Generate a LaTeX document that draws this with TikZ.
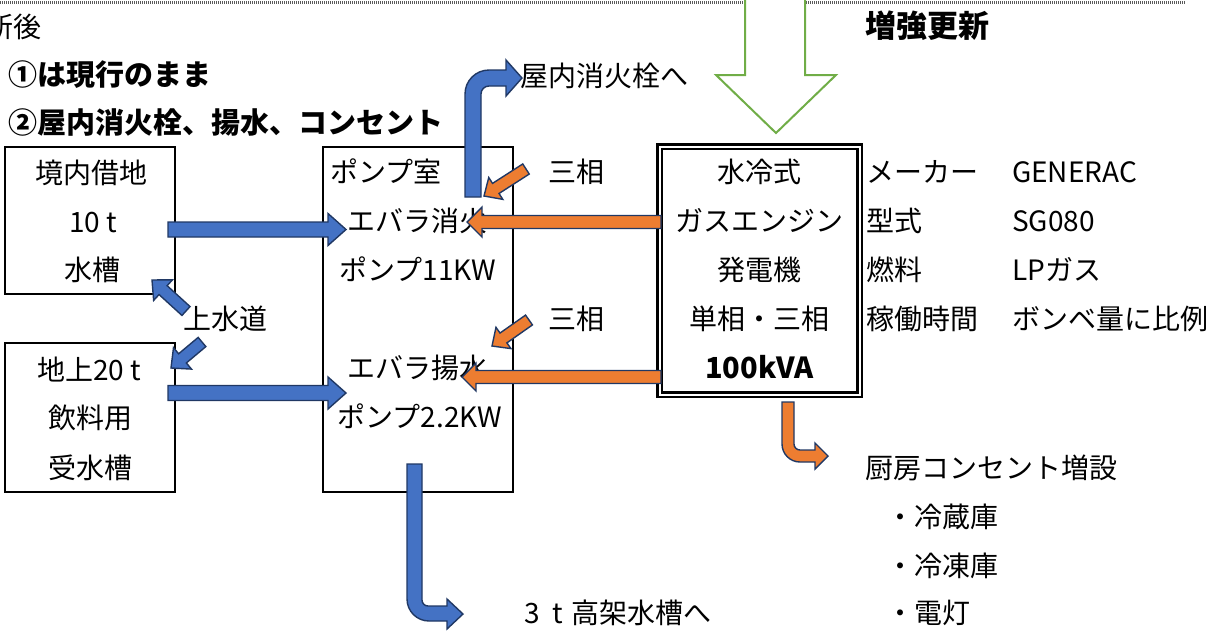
\documentclass[tikz,border=0pt]{standalone}
\usepackage{fontspec}
\setmainfont{Noto Sans CJK JP}
\usetikzlibrary{calc}
\definecolor{abl}{RGB}{68,114,196}
\definecolor{aor}{RGB}{237,125,49}
\definecolor{anv}{RGB}{32,56,100}
\definecolor{agr}{RGB}{112,173,71}
\definecolor{adot}{RGB}{90,90,90}
\newcommand\blockarr[6]{%
  \coordinate (bab) at ($(#3)!#6!(#2)$);
  \filldraw[#1] ($(#2)!#4!90:(#3)$) -- ($(bab)!#4!90:(#3)$) -- ($(bab)!#5!90:(#3)$) -- (#3)
    -- ($(bab)!#5!-90:(#3)$) -- ($(bab)!#4!-90:(#3)$) -- ($(#2)!#4!-90:(#3)$) -- cycle;}
\begin{document}
\begin{tikzpicture}[x=1pt,y=-1pt,
  tx/.style={font=\fontsize{28}{34}\selectfont, inner sep=0pt, text height=24pt, text depth=4pt},
  bx/.style={font=\fontsize{29}{35}\selectfont\bfseries, inner sep=0pt, text height=25pt, text depth=4pt},
  box/.style={draw, line width=2.5pt, inner sep=0pt},
  bluearr/.style={fill=abl, draw=anv, line width=1.4pt},
  orarr/.style={fill=aor, draw=anv, line width=1.4pt}]
\useasboundingbox (0,0) rectangle (1223,633);
% top dotted line
\draw[adot, line width=3pt, dash pattern=on 1pt off 1pt] (0,2) -- (1186,2);
% green arrow
\filldraw[fill=white, draw=agr, line width=2pt] (745,-5) -- (745,75) -- (716,75) -- (776,133) -- (836,75) -- (805,75) -- (805,-5);
% headings
\node[tx, anchor=east] (t0) at (42,27) {更新後};
\node[bx, anchor=west] (t1) at (8,75) {①は現行のまま};
\node[bx, anchor=west] (t2) at (8,123) {②屋内消火栓、揚水、コンセント};
\node[bx, anchor=west, font=\fontsize{31}{37}\selectfont\bfseries] (t3) at (865,27) {増強更新};
% boxes
\node[box, minimum width=170pt, minimum height=147pt] (boxA) at (90,220.5) {};
\node[box, minimum width=170pt, minimum height=149pt] (boxB) at (90,417.5) {};
\node[box, minimum width=190pt, minimum height=345pt] (pump) at (418,319.5) {};
\node[draw, double, double distance=2pt, line width=2.5pt, inner sep=0pt, minimum width=200pt, minimum height=248pt] (gen) at (759.5,270.5) {};
% box A text
\node[tx] (a1) at (91,173) {境内借地};
\node[tx] (a2) at (93,222) {10 t};
\node[tx] (a3) at (92,270) {水槽};
% box B text
\node[tx] (b1) at (89,370) {地上20 t};
\node[tx] (b2) at (90,418) {飲料用};
\node[tx] (b3) at (90,468) {受水槽};
% pump text
\node[tx, anchor=west] (p1) at (330,172) {ポンプ室};
\node[tx, anchor=west] (p2) at (347,221) {エバラ消火};
\node[tx] (p3) at (418,270) {ポンプ11KW};
\node[tx, anchor=west] (p4) at (347,368) {エバラ揚水};
\node[tx] (p5) at (420,417) {ポンプ2.2KW};
% generator text
\node[tx] (g1) at (759.5,172) {水冷式};
\node[tx] (g2) at (759.5,221) {ガスエンジン};
\node[tx] (g3) at (759.5,270) {発電機};
\node[tx] (g4) at (759.5,319) {単相・三相};
\node[bx] (g5) at (759.5,368) {100kVA};
% specs
\node[tx, anchor=west] (s1) at (866,172) {メーカー};
\node[tx, anchor=west] (s2) at (866,221) {型式};
\node[tx, anchor=west] (s3) at (866,270) {燃料};
\node[tx, anchor=west] (s4) at (866,319) {稼働時間};
\node[tx, anchor=west] (v1) at (1012,172) {GENERAC};
\node[tx, anchor=west] (v2) at (1012,221) {SG080};
\node[tx, anchor=west] (v3) at (1012,270) {LPガス};
\node[tx, anchor=west] (v4) at (1012,319) {ボンベ量に比例};
% other labels
\node[tx, anchor=west] (m1) at (548,172) {三相};
\node[tx, anchor=west] (m2) at (548,319) {三相};
\node[tx, anchor=west] (w1) at (183,319) {上水道};
\node[tx, anchor=west] (o1) at (520,76) {屋内消火栓へ};
\node[tx, anchor=west] (o2) at (524,613) {3\hspace{0.45em}t\hspace{0.3em}高架水槽へ};
\node[tx, anchor=west] (k0) at (865,468) {厨房コンセント増設};
\node[tx, anchor=west] (k1) at (886,517) {・冷蔵庫};
\node[tx, anchor=west] (k2) at (886,566) {・冷凍庫};
\node[tx, anchor=west] (k3) at (886,613) {・電灯};
% straight block arrows
\coordinate (ha1) at (168,229.5); \coordinate (hb1) at (346,229.5);
\coordinate (ha2) at (168,393);   \coordinate (hb2) at (346,393);
\coordinate (oa1) at (661,222);   \coordinate (ob1) at (467,222);
\coordinate (oa2) at (661,377);   \coordinate (ob2) at (462,377);
\coordinate (da1) at (526,169);   \coordinate (db1) at (484,196);
\coordinate (da2) at (529,320);   \coordinate (db2) at (492,346);
\coordinate (ua1) at (186,311);   \coordinate (ub1) at (152,280);
\coordinate (ua2) at (202,342);   \coordinate (ub2) at (171,368);
\blockarr{bluearr}{ha1}{hb1}{7.5pt}{16pt}{18pt}
\blockarr{bluearr}{ha2}{hb2}{7.5pt}{16pt}{18pt}
\blockarr{orarr}{oa1}{ob1}{6.5pt}{15pt}{15pt}
\blockarr{orarr}{oa2}{ob2}{6.5pt}{14pt}{14pt}
\blockarr{orarr}{da1}{db1}{6pt}{13pt}{14pt}
\blockarr{orarr}{da2}{db2}{6pt}{13pt}{14pt}
\blockarr{bluearr}{ua1}{ub1}{6pt}{14pt}{15pt}
\blockarr{bluearr}{ua2}{ub2}{6pt}{14pt}{15pt}
% bent arrows
\filldraw[bluearr] (465,197) -- (465,94) arc[start angle=180,end angle=270,radius=24] -- (506,70) -- (506,60) -- (522,78) -- (506,96) -- (506,86) -- (489,86) arc[start angle=270,end angle=180,radius=8] -- (481,197) -- cycle;
\filldraw[bluearr] (422,464) -- (407,464) -- (407,599) arc[start angle=180,end angle=90,radius=22] -- (447,621) -- (447,629) -- (463,614) -- (447,599) -- (447,606) -- (428,606) arc[start angle=90,end angle=180,radius=6] -- cycle;
\filldraw[orarr] (794,402) -- (782,402) -- (782,444) arc[start angle=180,end angle=90,radius=18] -- (815,462) -- (815,469) -- (828,456) -- (815,443) -- (815,450) -- (800,450) arc[start angle=90,end angle=180,radius=6] -- cycle;
\end{tikzpicture}
\end{document}
